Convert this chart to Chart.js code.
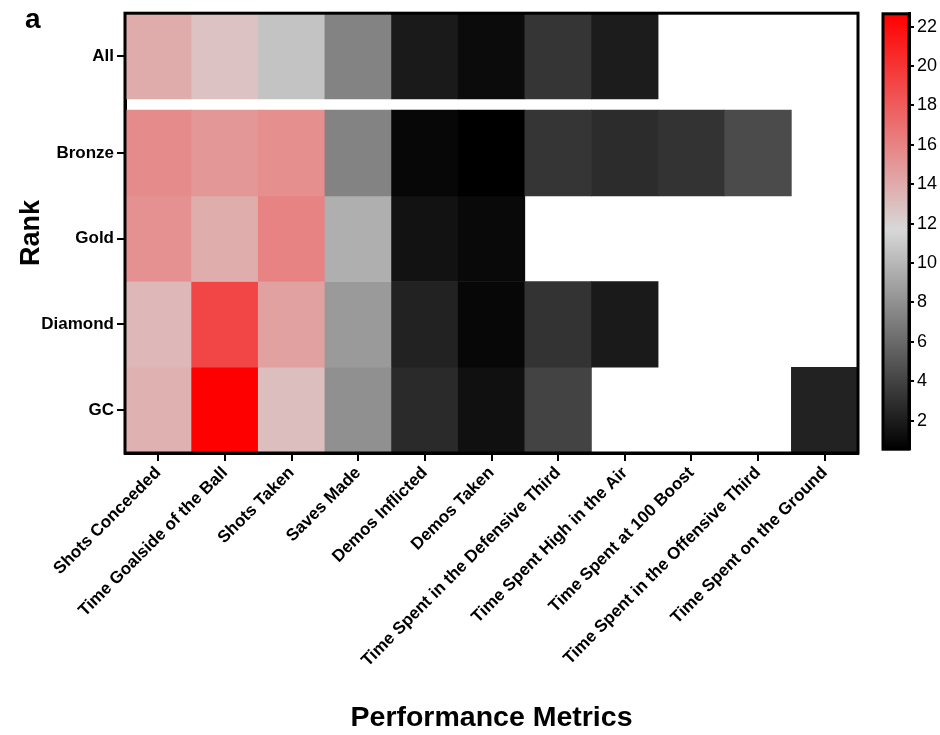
<!DOCTYPE html>
<html>
<head>
<meta charset="utf-8">
<script src="https://cdn.jsdelivr.net/npm/chart.js@4.4.1/dist/chart.umd.min.js"></script>
<style>
  html, body { margin: 0; padding: 0; background: #fff; }
  #wrap { position: relative; width: 940px; height: 735px; font-family: "Liberation Sans", Arial, sans-serif; }
  #main { position: absolute; left: 0; top: 0; }
  #bar { position: absolute; left: 860px; top: 0; }
  #panel { position: absolute; left: 25px; top: 3px; font-size: 28px; font-weight: bold; color: #000; }
</style>
</head>
<body>
<div id="wrap">
  <canvas id="main" width="940" height="735"></canvas>
  <canvas id="bar" width="80" height="463"></canvas>
  <div id="panel">a</div>
</div>
<script>
// categories
const metrics = [
  'Shots Conceeded', 'Time Goalside of the Ball', 'Shots Taken', 'Saves Made',
  'Demos Inflicted', 'Demos Taken', 'Time Spent in the Defensive Third',
  'Time Spent High in the Air', 'Time Spent at 100 Boost',
  'Time Spent in the Offensive Third', 'Time Spent on the Ground'
];
const ranks = ['All', 'Bronze', 'Gold', 'Diamond', 'GC'];

// values per rank (null = no cell)
const allVals     = [14.0, 12.8, 10.6, 7.3, 1.9, 1.1, 3.3, 2.0, null, null, null];
const bronzeVals  = [15.6, 15.0, 15.4, 7.3, 0.9, 0.55, 3.3, 2.8, 3.2, 4.4, null];
const goldVals    = [15.3, 13.9, 16.0, 9.6, 1.5, 1.0, null, null, null, null, null];
const diamondVals = [13.3, 19.1, 14.5, 8.5, 2.3, 0.9, 3.2, 1.9, null, null, null];
const gcVals      = [13.7, 22.65, 13.0, 8.0, 2.7, 1.4, 4.0, null, null, null, 2.3];
const rowVals = [allVals, bronzeVals, goldVals, diamondVals, gcVals];

// colour scale
const scaleTicks = [2, 4, 6, 8, 10, 12, 14, 16, 18, 20, 22];
const scaleMin = 0.55, scaleMid = 11.7, scaleMax = 22.65;

const rowGap = 0.13; // white strip under "All"

function heat(v) {
  const g = 216;
  if (v <= scaleMid) {
    const c = Math.round(g * (v - scaleMin) / (scaleMid - scaleMin));
    return `rgb(${c},${c},${c})`;
  }
  const t = (v - scaleMid) / (scaleMax - scaleMid);
  const gb = Math.round(g * (1 - t));
  return `rgb(${Math.round(g + (255 - g) * t)},${gb},${gb})`;
}

function rowSpan(r) {
  const k = ranks.length - 1 - r;
  const lo = k + (r === 0 ? rowGap : 0);
  return [lo, lo + 1];
}

Chart.defaults.font.family = '"Liberation Sans", Arial, sans-serif';
Chart.defaults.color = '#000';

const frame = {
  id: 'frame',
  afterDatasetsDraw(chart) {
    const { ctx, chartArea: a } = chart;
    ctx.save();
    ctx.strokeStyle = '#000';
    ctx.lineWidth = 3;
    ctx.strokeRect(a.left, a.top, a.right - a.left, a.bottom - a.top);
    ctx.restore();
  }
};

const yTickOrder = ranks.map((n, r) => r).reverse();

new Chart(document.getElementById('main'), {
  type: 'bar',
  data: {
    labels: metrics,
    datasets: ranks.map((name, r) => ({
      label: name,
      data: rowVals[r].map(v => v == null ? null : rowSpan(r)),
      backgroundColor: rowVals[r].map(v => v == null ? 'rgba(0,0,0,0)' : heat(v)),
      borderWidth: 0,
      barPercentage: 1,
      categoryPercentage: 1,
      grouped: false
    }))
  },
  options: {
    responsive: false,
    animation: false,
    layout: { padding: { top: 10, right: 82, left: 0, bottom: 0 } },
    plugins: { legend: { display: false }, tooltip: { enabled: false } },
    scales: {
      x: {
        type: 'category',
        offset: true,
        afterFit: s => { s.height = 282; },
        grid: { offset: false, drawOnChartArea: false, tickLength: 8, color: '#000', lineWidth: 2 },
        border: { color: '#000', width: 3 },
        ticks: { autoSkip: false, maxRotation: 45, minRotation: 45, padding: 2, font: { size: 17, weight: 'bold' } },
        title: { display: true, text: 'Performance Metrics', font: { size: 28.5, weight: 'bold' }, padding: { top: 0, bottom: 0 } }
      },
      y: {
        min: 0,
        max: ranks.length + rowGap,
        afterFit: s => { s.width = 125; },
        afterBuildTicks: axis => {
          axis.ticks = yTickOrder.map(r => ({ value: (rowSpan(r)[0] + rowSpan(r)[1]) / 2 }));
        },
        grid: { drawOnChartArea: false, tickLength: 8, color: '#000', lineWidth: 2 },
        border: { color: '#000', width: 3 },
        ticks: {
          autoSkip: false, padding: 3, font: { size: 17, weight: 'bold' },
          callback: (v, i) => ranks[yTickOrder[i]]
        },
        title: { display: true, text: 'Rank', font: { size: 27, weight: 'bold' }, padding: { top: 15, bottom: 0 } }
      }
    }
  },
  plugins: [frame]
});

// colour bar
new Chart(document.getElementById('bar'), {
  type: 'bar',
  data: {
    labels: [''],
    datasets: [{
      data: [[scaleMin, scaleMax]],
      borderWidth: 0,
      barPercentage: 1,
      categoryPercentage: 1,
      backgroundColor: ctx => {
        const chart = ctx.chart;
        if (!chart.chartArea) return '#000';
        const ys = chart.scales.y;
        const g = chart.ctx.createLinearGradient(0, ys.getPixelForValue(scaleMin), 0, ys.getPixelForValue(scaleMax));
        g.addColorStop(0, heat(scaleMin));
        g.addColorStop((scaleMid - scaleMin) / (scaleMax - scaleMin), heat(scaleMid));
        g.addColorStop(1, heat(scaleMax));
        return g;
      }
    }]
  },
  options: {
    responsive: false,
    animation: false,
    layout: { padding: { top: 10, left: 23, bottom: 10, right: 0 } },
    plugins: { legend: { display: false }, tooltip: { enabled: false } },
    scales: {
      x: { display: false },
      y: {
        position: 'right',
        min: scaleMin,
        max: scaleMax,
        afterFit: s => { s.width = 31; },
        afterBuildTicks: axis => { axis.ticks = scaleTicks.map(v => ({ value: v })); },
        grid: { drawOnChartArea: false, tickLength: 5, color: '#000', lineWidth: 2 },
        border: { color: '#000', width: 3 },
        ticks: { padding: 3, font: { size: 18 } }
      }
    }
  },
  plugins: [frame]
});
</script>
</body>
</html>
